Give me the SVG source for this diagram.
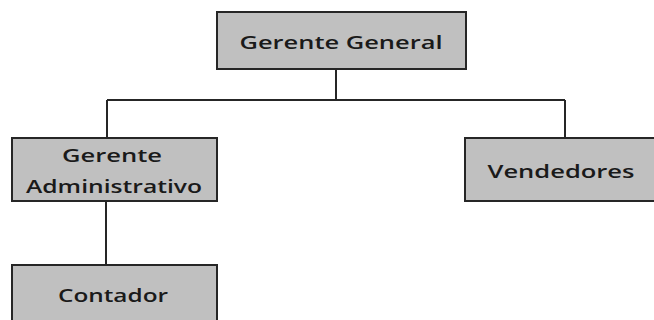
<svg xmlns="http://www.w3.org/2000/svg" width="654" height="320" viewBox="0 0 654 320">
<style>
.box{fill:#c0c0c0;stroke:#262626;stroke-width:2}
.lbl{font-family:"Open Sans","DejaVu Sans",sans-serif;font-weight:600;font-size:18px;fill:#1a1a1a;text-anchor:middle}
.conn{stroke:#262626;stroke-width:2;fill:none}
</style>
<rect width="654" height="320" fill="#fff"/>
<g id="connectors">
<path class="conn" d="M336 69V100M107 100H565M107 100V138M565 100V138M106 201V265"/>
</g>
<g id="gerente-general">
<rect class="box" x="217" y="12" width="249" height="57"/>
<text class="lbl" x="341" y="49" textLength="203" lengthAdjust="spacingAndGlyphs">Gerente General</text>
</g>
<g id="gerente-administrativo">
<rect class="box" x="12" y="138" width="205" height="63"/>
<text class="lbl" x="112" y="162" textLength="100" lengthAdjust="spacingAndGlyphs">Gerente</text>
<text class="lbl" x="114" y="193" textLength="176" lengthAdjust="spacingAndGlyphs">Administrativo</text>
</g>
<g id="vendedores">
<rect class="box" x="465" y="138" width="190" height="63"/>
<text class="lbl" x="561" y="178" textLength="147" lengthAdjust="spacingAndGlyphs">Vendedores</text>
</g>
<g id="contador">
<rect class="box" x="12" y="265" width="205" height="62"/>
<text class="lbl" x="113" y="302" textLength="110" lengthAdjust="spacingAndGlyphs">Contador</text>
</g>
</svg>
